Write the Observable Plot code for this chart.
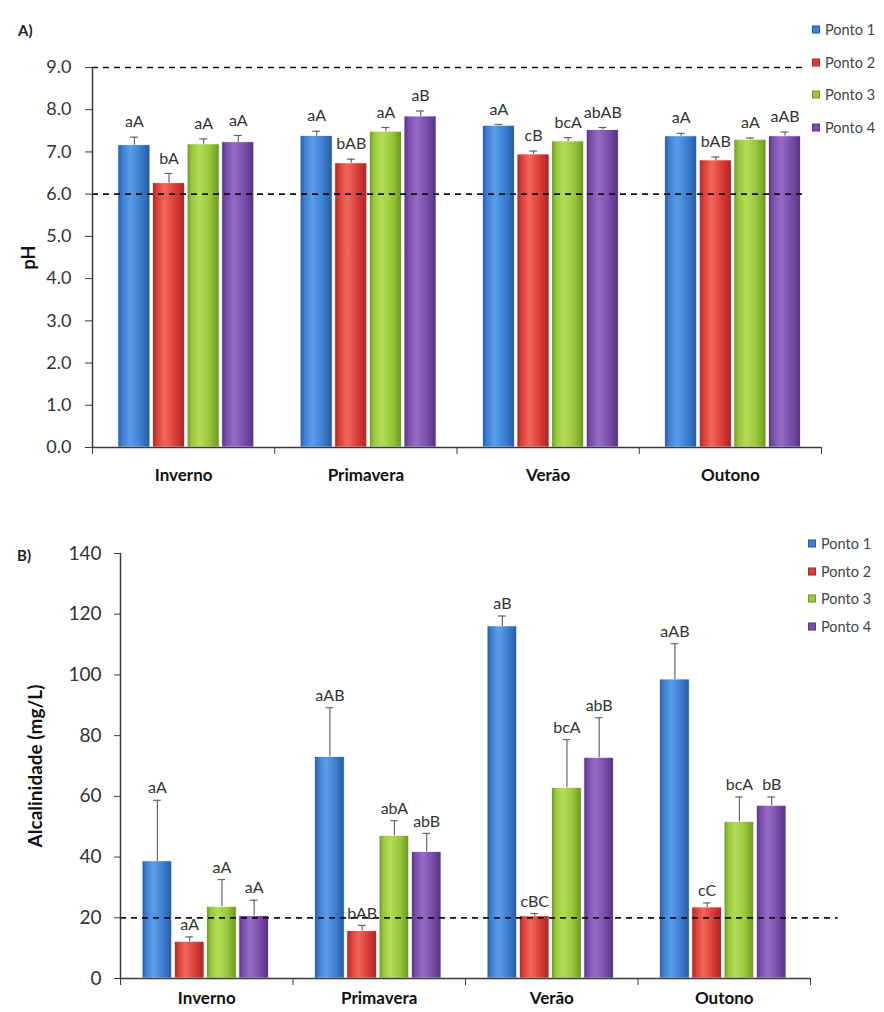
<!DOCTYPE html>
<html><head><meta charset="utf-8">
<script src="https://cdn.jsdelivr.net/npm/d3@7"></script>
<script src="https://cdn.jsdelivr.net/npm/@observablehq/plot@0.6"></script>
<style>
html,body{margin:0;padding:0;width:884px;height:1012px;overflow:hidden;background:#fff;font-family:Lato,"Open Sans",sans-serif;}
#wrap{position:relative;width:884px;height:1012px;overflow:hidden;}
.panel{position:absolute;left:0;}
.tag{position:absolute;font-weight:bold;font-size:15px;color:#222;line-height:1;}
.legend{position:absolute;left:0;top:0;font-size:14.5px;color:#444;white-space:nowrap;z-index:5;}
.legend .item{position:absolute;display:flex;align-items:center;transform:translateY(-50%);}
.legend .sw{width:8px;height:8px;margin-right:5px;border:1px solid rgba(0,0,0,0.25);box-sizing:border-box;}
g[aria-label="y-axis label"] text{font-weight:bold;fill:#111;}
</style></head>
<body><div id="wrap">
<svg width="0" height="0" style="position:absolute"><defs id="defs"></defs></svg>
</div>
<script>
// ---- data ----
const seasons = ["Inverno", "Primavera", "Verão", "Outono"];
const pontos = ["Ponto 1", "Ponto 2", "Ponto 3", "Ponto 4"];

// pH means per ponto (across seasons)
const phP1 = [7.16, 7.38, 7.62, 7.37];
const phP2 = [6.26, 6.73, 6.94, 6.80];
const phP3 = [7.18, 7.48, 7.25, 7.29];
const phP4 = [7.23, 7.84, 7.52, 7.37];
// pH error (upper bar)
const phErrP1 = [0.19, 0.11, 0.03, 0.07];
const phErrP2 = [0.23, 0.10, 0.08, 0.08];
const phErrP3 = [0.13, 0.10, 0.09, 0.04];
const phErrP4 = [0.16, 0.13, 0.06, 0.10];
// pH letters
const phLabP1 = ["aA", "aA", "aA", "aA"];
const phLabP2 = ["bA", "bAB", "cB", "bAB"];
const phLabP3 = ["aA", "aA", "bcA", "aA"];
const phLabP4 = ["aA", "aB", "abAB", "aAB"];
const phLimits = [6.0, 9.0];
const phTicks = [0, 1, 2, 3, 4, 5, 6, 7, 8, 9];

// Alcalinidade
const alkP1 = [38.6, 73.0, 116.0, 98.5];
const alkP2 = [12.1, 15.6, 20.5, 23.4];
const alkP3 = [23.6, 47.0, 62.8, 51.6];
const alkP4 = [20.6, 41.7, 72.7, 56.9];
const alkErrP1 = [20.1, 16.2, 3.4, 11.8];
const alkErrP2 = [1.6, 1.9, 0.9, 1.5];
const alkErrP3 = [9.0, 5.0, 15.9, 8.2];
const alkErrP4 = [5.2, 6.1, 13.2, 2.9];
const alkLabP1 = ["aA", "aAB", "aB", "aAB"];
const alkLabP2 = ["aA", "bAB", "cBC", "cC"];
const alkLabP3 = ["aA", "abA", "bcA", "bcA"];
const alkLabP4 = ["aA", "abB", "abB", "bB"];
const alkLimits = [20];
const alkTicks = [0, 20, 40, 60, 80, 100, 120, 140];

// ---- styles ----
const colBase = ["#3c7fd4", "#dc3d37", "#98c83a", "#7b4dae"];
const colDark = ["#28599c", "#a82626", "#6b9522", "#54337d"];
const colLight = ["#5c9de8", "#f0675c", "#b3dc5a", "#966cc6"];

const defs = d3.select("#defs");
colBase.forEach((c, i) => {
  const g = defs.append("linearGradient").attr("id", "grad" + i)
    .attr("x1", "0").attr("x2", "1").attr("y1", "0").attr("y2", "0");
  [[0, colDark[i]], [0.14, c], [0.38, colLight[i]], [0.7, c], [1, colDark[i]]]
    .forEach(([o, col]) => g.append("stop").attr("offset", o).attr("stop-color", col));
});

function buildRows(means, errs, labs, off, slot, bw, cap) {
  const rows = [];
  means.forEach((arr, pi) => arr.forEach((v, si) => {
    const x1 = si + off + pi * slot;
    rows.push({season: seasons[si], ponto: pontos[pi], value: v, top: v + errs[pi][si],
      label: labs[pi][si], x1, x2: x1 + bw, cx: x1 + bw / 2,
      c1: x1 + bw / 2 - cap, c2: x1 + bw / 2 + cap, grad: `url(#grad${pi})`});
  }));
  return rows;
}

const rowsA = buildRows([phP1, phP2, phP3, phP4], [phErrP1, phErrP2, phErrP3, phErrP4],
  [phLabP1, phLabP2, phLabP3, phLabP4], 0.142, 0.19, 0.176, 0.022);
const rowsB = buildRows([alkP1, alkP2, alkP3, alkP4], [alkErrP1, alkErrP2, alkErrP3, alkErrP4],
  [alkLabP1, alkLabP2, alkLabP3, alkLabP4], 0.128, 0.187, 0.172, 0.022);

function panel({rows, yDomain, ticks, fmt, limits, limitEnd, height, mt, mb, ml, mr,
                yLabel, labelOffset, tickSize, tickPad, tickFont, seasonPad, labelDy}) {
  return Plot.plot({
    width: 884, height,
    marginTop: mt, marginBottom: mb, marginLeft: ml, marginRight: mr,
    x: {type: "linear", domain: [0, 4]},
    y: {domain: yDomain},
    color: {type: "identity"},
    style: {fontFamily: "Lato, 'Open Sans', sans-serif", color: "#333", background: "transparent", overflow: "visible"},
    marks: [
      Plot.rectY(rows, {x1: "x1", x2: "x2", y1: 0, y2: "value", fill: "grad", stroke: "#fff", strokeWidth: 0.8}),
      Plot.ruleX(rows, {x: "cx", y1: "value", y2: "top", stroke: "#666", strokeWidth: 1.2}),
      Plot.ruleY(rows, {y: "top", x1: "c1", x2: "c2", stroke: "#666", strokeWidth: 1.2}),
      Plot.ruleY(limits, {y: d => d, x1: 0, x2: limitEnd, stroke: "#111", strokeWidth: 1.7, strokeDasharray: "6,5"}),
      Plot.text(rows, {x: "cx", y: "top", text: "label", dy: labelDy, fontSize: 16, fill: "#333"}),
      Plot.ruleX([0], {y1: yDomain[0], y2: yDomain[1], stroke: "#3a3a3a", strokeWidth: 1.5}),
      Plot.ruleY([0], {x1: 0, x2: 4, stroke: "#3a3a3a", strokeWidth: 1.5}),
      Plot.axisY({ticks, tickFormat: fmt, tickSize, tickPadding: tickPad, fontSize: tickFont, stroke: "#3a3a3a",
        label: yLabel, labelAnchor: "center", labelOffset, labelArrow: "none"}),
      Plot.axisX({ticks: [0, 1, 2, 3, 4], tickFormat: () => "", tickSize: 7, stroke: "#3a3a3a", label: null}),
      Plot.axisX({ticks: [0.5, 1.5, 2.5, 3.5], tickSize: 0, tickPadding: seasonPad,
        tickFormat: d => seasons[Math.floor(d)], fontSize: 17, fontWeight: "bold", fill: "#111", label: null})
    ]
  });
}

const plotA = panel({rows: rowsA, yDomain: [0, 9], ticks: phTicks, fmt: d => d.toFixed(1),
  limits: phLimits, limitEnd: 3.92, height: 500, mt: 67, mb: 53, ml: 92, mr: 63,
  yLabel: "pH", labelOffset: 70, tickSize: 7, tickPad: 14, tickFont: 18, seasonPad: 21, labelDy: -15});
const plotB = panel({rows: rowsB, yDomain: [0, 140], ticks: alkTicks, fmt: d => String(d),
  limits: alkLimits, limitEnd: 4.16, height: 512, mt: 53, mb: 34, ml: 120, mr: 74,
  yLabel: "Alcalinidade (mg/L)", labelOffset: 92, tickSize: 6, tickPad: 13, tickFont: 19, seasonPad: 13, labelDy: -12});

const wrap = document.getElementById("wrap");
plotA.classList.add("panel"); plotA.style.top = "0px";
plotB.classList.add("panel"); plotB.style.top = "500px";
wrap.appendChild(plotA);
wrap.appendChild(plotB);

function tag(text, x, y) {
  const d = document.createElement("div");
  d.className = "tag"; d.textContent = text;
  d.style.left = x + "px"; d.style.top = y + "px";
  wrap.appendChild(d);
}
tag("A)", 18, 23);
tag("B)", 17, 548);

function legend(x, ys) {
  const L = document.createElement("div");
  L.className = "legend";
  pontos.forEach((p, i) => {
    const it = document.createElement("div");
    it.className = "item";
    it.style.left = x + "px"; it.style.top = ys[i] + "px";
    const sw = document.createElement("span");
    sw.className = "sw"; sw.style.background = colBase[i];
    const t = document.createElement("span"); t.textContent = p;
    it.appendChild(sw); it.appendChild(t);
    L.appendChild(it);
  });
  wrap.appendChild(L);
}
legend(812, [29, 62, 94, 127]);
legend(808, [543, 571, 598, 626]);
</script>
</body></html>
